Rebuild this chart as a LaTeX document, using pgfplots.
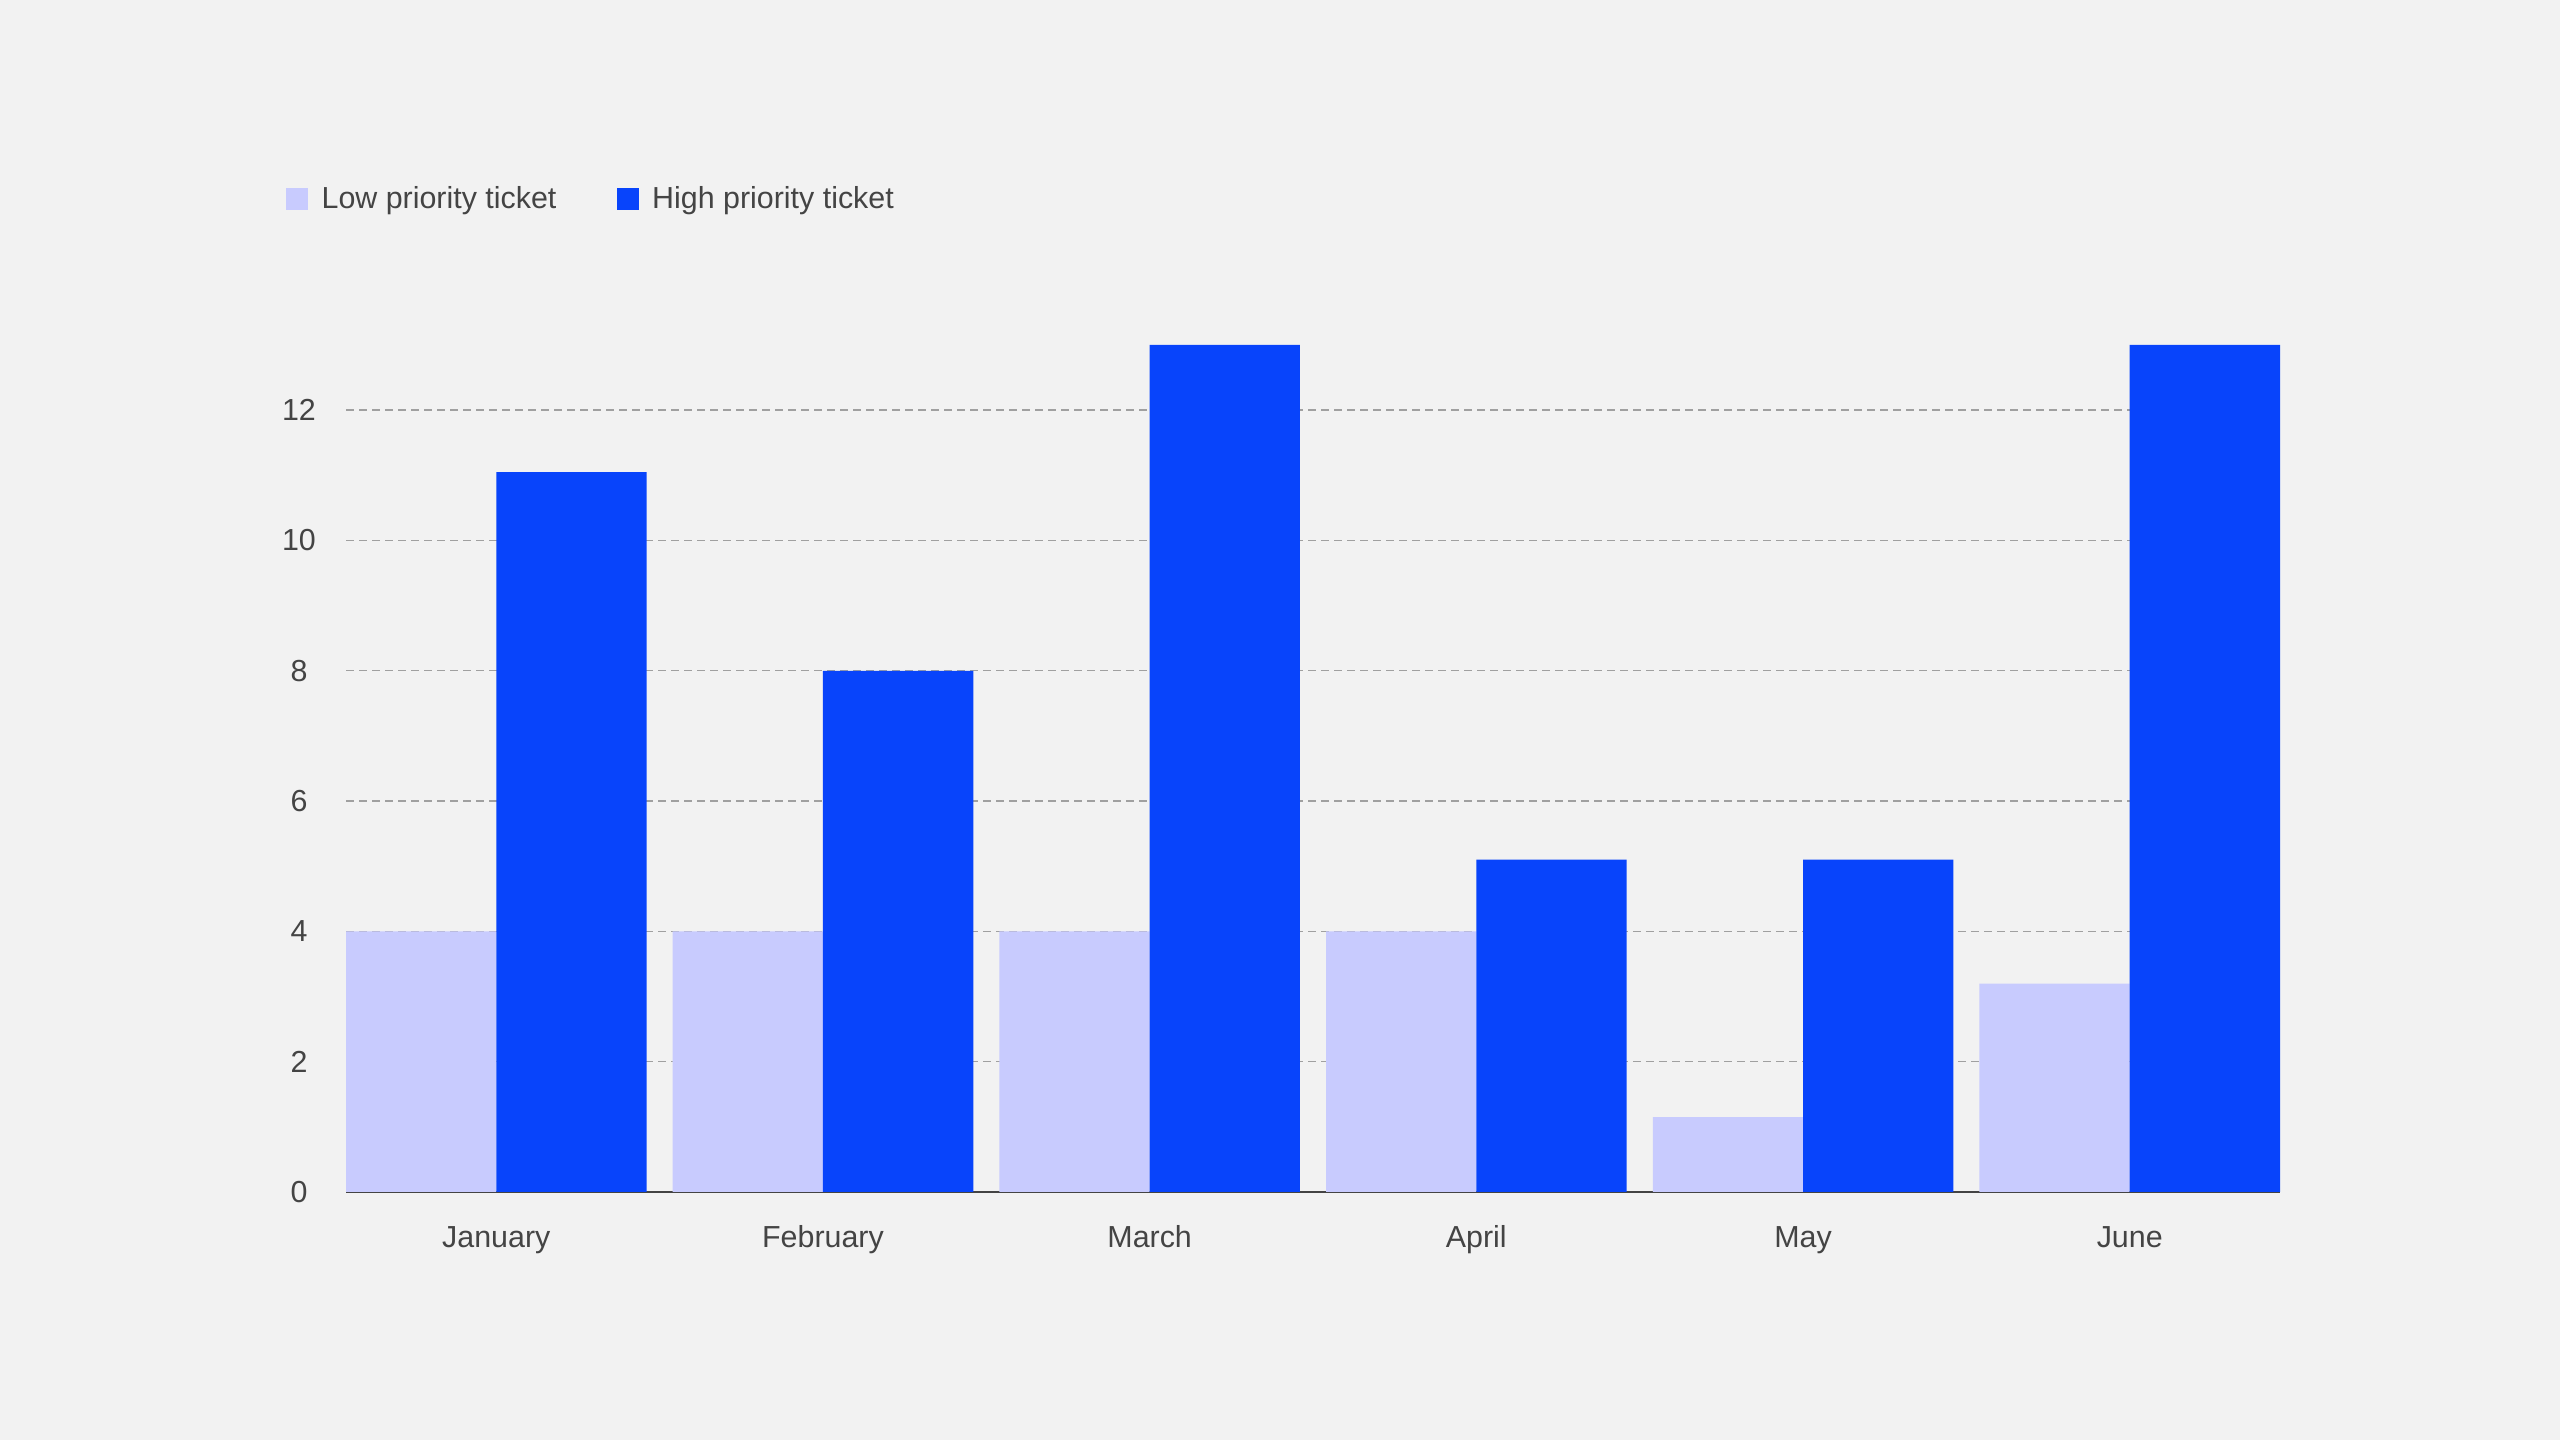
\documentclass[border=0pt]{standalone}
\usepackage{fontspec}
\setmainfont{Liberation Sans}
\usepackage{pgfplots}
\pgfplotsset{compat=1.18}
\definecolor{bg}{HTML}{F2F2F2}
\definecolor{lowc}{HTML}{C8CBFE}
\definecolor{highc}{HTML}{0844FB}
\definecolor{txt}{HTML}{444444}
\definecolor{gridc}{HTML}{A0A0A0}
\pgfplotsset{sqlegend/.style={legend image code/.code={\fill[##1] (0pt,-5.5pt) rectangle (11pt,5.5pt);}}}
\begin{document}
\begin{tikzpicture}
\fill[bg] (0,0) rectangle (1280pt,720pt);
\begin{axis}[
 at={(173pt,124pt)}, anchor=south west,
 scale only axis, width=967pt, height=423.5pt,
 xmin=-0.46, xmax=5.46, ymin=0, ymax=13, clip=false,
 axis line style={draw=none},
 major tick length=0pt,
 xtick={0,...,5}, xticklabels={January,February,March,April,May,June},
 ytick={0,2,...,12},
 ymajorgrids, major grid style={gridc, line width=0.7pt, dash pattern=on 4pt off 2.5pt},
 extra y ticks={0}, extra y tick labels={}, extra y tick style={grid=major, major grid style={solid, color=txt, line width=0.8pt}},
 font=\fontsize{15.2}{18}\selectfont,
 ticklabel style={text=txt},
 /pgf/number format/assume math mode=true,
 xticklabel style={anchor=base, yshift=-28pt},
 yticklabel style={anchor=center, xshift=-23.5pt},
 legend style={at={(0,1)}, anchor=west, xshift=-30pt, yshift=72.8pt, draw=none, fill=none, inner sep=0pt, font=\fontsize{15.2}{18}\selectfont, text=txt, /tikz/every even column/.append style={column sep=30.3pt}, /tikz/every odd column/.append style={column sep=6.6pt}, nodes={inner sep=0pt}},
 legend columns=2,
]
\addplot[ybar, sqlegend, bar width=0.46, bar shift=-0.23, fill=lowc, draw=none] coordinates {(0,4) (1,4) (2,4) (3,4) (4,1.15) (5,3.2)};
\addplot[ybar, sqlegend, bar width=0.46, bar shift=0.23, fill=highc, draw=none] coordinates {(0,11.05) (1,8) (2,13) (3,5.1) (4,5.1) (5,13)};
\legend{Low priority ticket, High priority ticket}
\end{axis}
\end{tikzpicture}
\end{document}
